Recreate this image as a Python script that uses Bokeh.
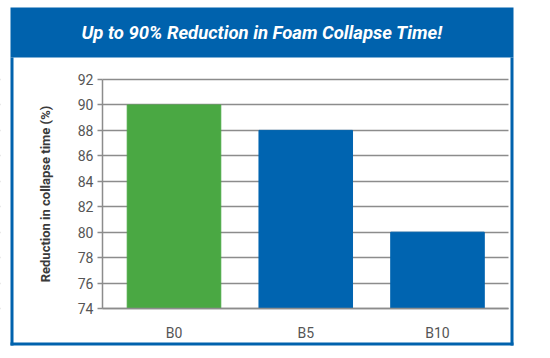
from bokeh.plotting import figure
from bokeh.models import Range1d, FixedTicker, ColumnDataSource, BoxAnnotation, Label
from bokeh.embed import file_html
from bokeh.resources import INLINE

# ---- data ----
categories = ["B0", "B5", "B10"]
values = [90, 88, 80]
bar_colors = ["#4aa843", "#0064b0", "#0064b0"]
y_ticks = [74, 76, 78, 80, 82, 84, 86, 88, 90, 92]
title_text = "Up to 90% Reduction in Foam Collapse Time!"
y_label = "Reduction in collapse time (%)"

# ---- layout constants (canvas pixels) ----
W, H = 542, 350
BLUE = "#0062ad"
FONT = "Roboto"
BOX_L, BOX_R, BOX_T, BOX_B = 10, 513, 7, 345
BAND_B = 57
EDGE = 3
AXIS_X, GRID_R = 102, 508
CAT0_X, CAT_DX = 173.5, 131.75
Y_TOP_PX, Y_BOT_PX = 79, 308
Y_MIN, Y_MAX = y_ticks[0], y_ticks[-1]
PX_PER_UNIT = (Y_BOT_PX - Y_TOP_PX) / (Y_MAX - Y_MIN)


def px_x(cx):
    return (cx - CAT0_X) / CAT_DX


def px_y(cy):
    return Y_MAX - (cy - Y_TOP_PX) / PX_PER_UNIT


xpos = list(range(len(categories)))
src = ColumnDataSource(dict(x=xpos, val=values, color=bar_colors))

p = figure(
    x_range=Range1d(px_x(0), px_x(W)),
    y_range=Range1d(px_y(H), px_y(0)),
    width=W, height=H,
    output_backend="svg", toolbar_location=None,
    min_border=0, min_border_left=0, min_border_right=0,
    min_border_top=0, min_border_bottom=0,
)
p.title.visible = False
p.outline_line_color = None
p.background_fill_color = "white"
p.border_fill_color = "white"

# grid
p.xgrid.grid_line_color = None
p.ygrid.grid_line_color = "#8c8c8c"
p.ygrid.grid_line_width = 1.5
p.ygrid.ticker = FixedTicker(ticks=y_ticks)

# white covers so grid lines run only between axis and right end
for l, r in [(0, AXIS_X), (GRID_R, W)]:
    p.add_layout(BoxAnnotation(left=px_x(l), right=px_x(r), top=px_y(0), bottom=px_y(H),
                               fill_color="white", fill_alpha=1.0, line_color=None,
                               level="glyph"))

p.vbar(x="x", top="val", bottom=Y_MIN, width=0.71, color="color", source=src)

# axes (placed inside the frame)
p.yaxis.fixed_location = px_x(AXIS_X)
p.yaxis.bounds = (Y_MIN, Y_MAX)
p.yaxis.ticker = FixedTicker(ticks=y_ticks)
p.yaxis.axis_line_color = "#8c8c8c"
p.yaxis.axis_line_width = 1.5
p.yaxis.major_tick_line_color = "#8c8c8c"
p.yaxis.major_tick_line_width = 1.5
p.yaxis.major_tick_out = 5
p.yaxis.major_tick_in = 0
p.yaxis.minor_tick_line_color = None
p.yaxis.major_label_standoff = 4
p.yaxis.major_label_text_font = FONT
p.yaxis.major_label_text_font_size = "14px"
p.yaxis.major_label_text_color = "#555555"
p.yaxis.axis_label = y_label
p.yaxis.axis_label_text_font = FONT
p.yaxis.axis_label_text_font_size = "13px"
p.yaxis.axis_label_text_font_style = "bold"
p.yaxis.axis_label_text_color = "#3a3a3a"
p.yaxis.axis_label_standoff = 22

p.xaxis.fixed_location = Y_MIN
p.xaxis.bounds = (px_x(AXIS_X), px_x(GRID_R))
p.xaxis.ticker = FixedTicker(ticks=xpos)
p.xaxis.major_label_overrides = {i: c for i, c in zip(xpos, categories)}
p.xaxis.axis_line_color = "#8c8c8c"
p.xaxis.axis_line_width = 1.5
p.xaxis.major_tick_line_color = None
p.xaxis.minor_tick_line_color = None
p.xaxis.major_label_text_font = FONT
p.xaxis.major_label_text_font_size = "14px"
p.xaxis.major_label_text_color = "#555555"
p.xaxis.major_label_standoff = 10

# blue frame and title band
for l, r, t, b in [
    (BOX_L, BOX_R, BOX_T, BAND_B),
    (BOX_L, BOX_L + EDGE, BAND_B, BOX_B),
    (BOX_R - EDGE, BOX_R, BAND_B, BOX_B),
    (BOX_L, BOX_R, BOX_B - EDGE, BOX_B),
]:
    p.add_layout(BoxAnnotation(left=px_x(l), right=px_x(r), top=px_y(t), bottom=px_y(b),
                               fill_color=BLUE, fill_alpha=1.0, line_color=None))

p.add_layout(Label(x=px_x((BOX_L + BOX_R) / 2), y=px_y(32), text=title_text,
                   text_align="center", text_baseline="middle", text_color="white",
                   text_font=FONT, text_font_size="18.5px", text_font_style="bold italic"))

open("out.html", "w").write(file_html(p, INLINE))
